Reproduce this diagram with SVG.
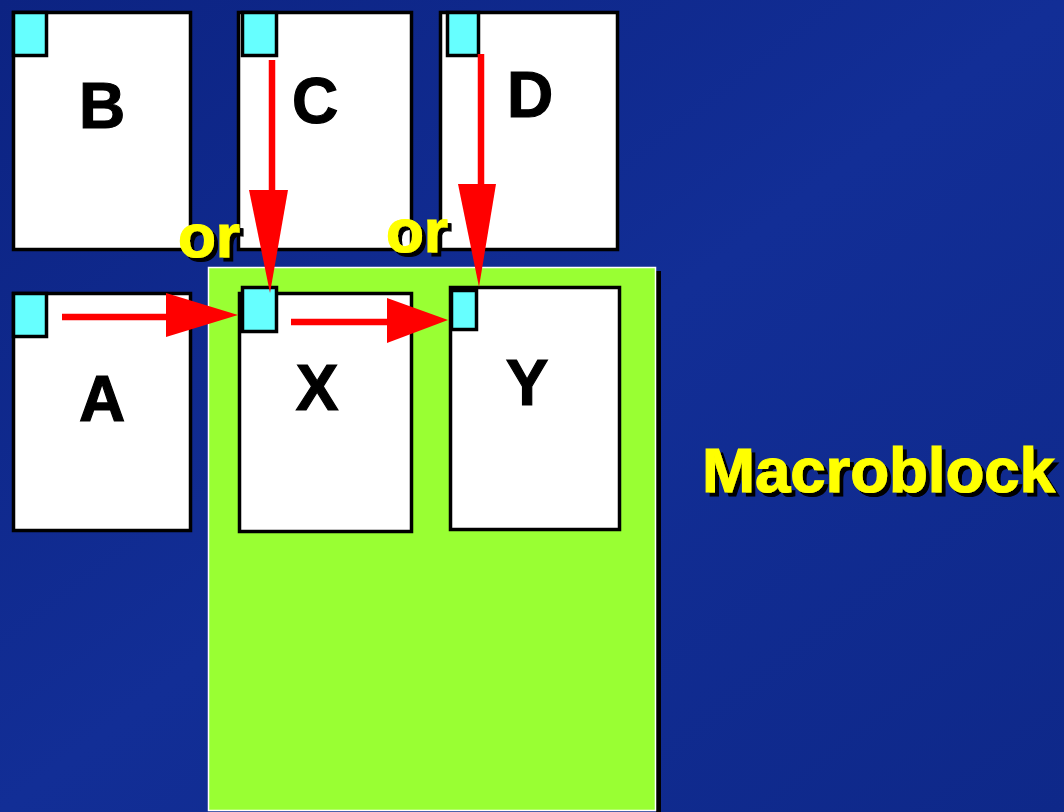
<svg xmlns="http://www.w3.org/2000/svg" width="1064" height="812" viewBox="0 0 1064 812">
<defs>
<linearGradient id="bg" x1="0" y1="0" x2="1" y2="1">
<stop offset="0" stop-color="#0c2382"/>
<stop offset="0.5" stop-color="#122e96"/>
<stop offset="1" stop-color="#0e2889"/>
</linearGradient>
<filter id="shadow" x="-10%" y="-10%" width="130%" height="140%">
<feFlood flood-color="#000000" result="c"/>
<feComposite in="c" in2="SourceAlpha" operator="in" result="s"/>
<feOffset in="s" dx="4" dy="4" result="o"/>
<feMerge><feMergeNode in="o"/><feMergeNode in="SourceGraphic"/></feMerge>
</filter>
<style>
.blk{fill:#ffffff;stroke:#000000;stroke-width:3.5}
.cy{fill:#66ffff;stroke:#000000;stroke-width:3.5}
.lbl{font-family:"Liberation Sans",Arial,sans-serif;font-weight:bold;font-size:64px;fill:#000000;stroke:#000000;stroke-width:1.2;text-anchor:middle}
.yel{font-family:"Liberation Sans",Arial,sans-serif;font-weight:bold;font-size:62px;fill:#ffff00;stroke:#ffff00;stroke-width:1.2;filter:url(#shadow)}
.ln{stroke:#ff0000;stroke-width:6.5;fill:none}
.hd{fill:#ff0000}
</style>
</defs>
<rect x="0" y="0" width="1064" height="812" fill="url(#bg)"/>
<g id="macroblock">
<rect x="656" y="271" width="5" height="541" fill="#000000"/>
<rect x="208.5" y="267.5" width="447" height="543" fill="#99ff33" stroke="#ffffff" stroke-width="1.5"/>
</g>
<g id="B">
<rect class="blk" x="13.5" y="12.5" width="177" height="237"/>
<rect class="cy" x="13.5" y="12.5" width="33" height="43"/>
<text class="lbl" x="102" y="128">B</text>
</g>
<g id="C">
<rect class="blk" x="238.5" y="12.5" width="173" height="237"/>
<rect class="cy" x="242.5" y="12.5" width="34" height="43"/>
<text class="lbl" x="315" y="123">C</text>
</g>
<g id="D">
<rect class="blk" x="440.5" y="12.5" width="177" height="237"/>
<rect class="cy" x="447.5" y="12.5" width="31" height="43"/>
<text class="lbl" x="530" y="117">D</text>
</g>
<g id="A">
<rect class="blk" x="13.5" y="293.5" width="177" height="237"/>
<rect class="cy" x="13.5" y="293.5" width="33" height="43"/>
<text class="lbl" x="102" y="421">A</text>
</g>
<g id="X">
<rect class="blk" x="239.5" y="293.5" width="172" height="238"/>
<rect class="cy" x="242.5" y="287.5" width="34" height="44"/>
<text class="lbl" x="317" y="410">X</text>
</g>
<g id="Y">
<rect class="blk" x="450.5" y="287.5" width="169" height="242"/>
<rect class="cy" x="451.5" y="290.5" width="25" height="39"/>
<text class="lbl" x="527" y="405">Y</text>
</g>
<g id="labels">
<text class="yel" x="178" y="257">or</text>
<text class="yel" x="386" y="252">or</text>
<text class="yel" x="702" y="492" style="font-size:63.5px">Macroblock</text>
</g>
<g id="connectors">
<line class="ln" x1="62" y1="317" x2="170" y2="317"/>
<polygon class="hd" points="166,293 238,315 166,337"/>
<line class="ln" x1="291" y1="322" x2="390" y2="322"/>
<polygon class="hd" points="387,298 448,320 387,343"/>
<line class="ln" x1="272" y1="60" x2="272" y2="195"/>
<polygon class="hd" points="249,190 288,190 270,293"/>
<line class="ln" x1="481" y1="54" x2="481" y2="188"/>
<polygon class="hd" points="458,184 496,184 479,287"/>
</g>
</svg>
